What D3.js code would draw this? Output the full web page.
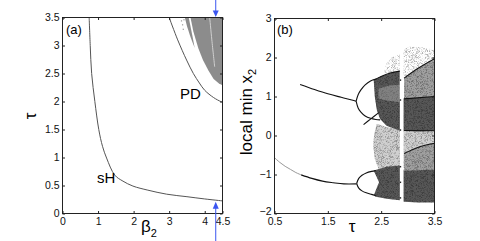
<!DOCTYPE html>
<html lang="en"><head><meta charset="UTF-8">
<title>sH / PD and bifurcation diagram</title>
<script src="https://cdn.jsdelivr.net/npm/d3@7/dist/d3.min.js"></script>
<style>
  body { margin: 0; background: #fff; }
  svg { display: block; font-family: "Liberation Sans", Arial, sans-serif; }
</style>
</head><body>
<script>
// ---- panel (a) data ----
var sHBeta = [0.75, 0.78, 0.82, 0.91, 1.02, 1.125, 1.24, 1.47, 1.7, 1.98, 2.4, 2.93, 3.5, 4.0, 4.5];
var sHTau  = [3.5, 3.0, 2.5, 2.0, 1.5, 1.2, 0.99, 0.685, 0.578, 0.49, 0.417, 0.345, 0.30, 0.26, 0.225];
var pdBeta = [3.0, 3.24, 3.49, 3.68, 3.85, 4.0, 4.25, 4.45, 4.5];
var pdTau  = [3.5, 3.1, 2.74, 2.5, 2.33, 2.2, 2.07, 2.0, 1.99];
// gray (chaotic) region, [beta, tau]
var chaosMain = [[3.6,3.5],[4.5,3.5],[4.5,2.29],[4.4,2.32],[4.25,2.4],[4.1,2.56],[3.95,2.74],[3.82,2.95],[3.68,3.25]];
var chaosSliver = [[3.44,3.5],[3.55,3.5],[3.66,3.15],[3.72,2.95],[3.6,3.15],[3.5,3.35]];
var chaosDots = [[3.33,3.45],[3.36,3.38],[3.4,3.47],[3.38,3.3]];
var chaosLightLine = [[4.14,3.5],[4.2,3.1],[4.28,2.62]];
var arrowBeta = 4.31;
var aXTicks = [0, 1, 2, 3, 4, 4.5];
var aYTicks = [0, 0.5, 1, 1.5, 2, 2.5, 3, 3.5];

// ---- panel (b) data: [tau, local min x2] ----
var lowGray  = [[0.5,-0.57],[0.6,-0.69],[0.7,-0.79],[0.8,-0.87],[0.9,-0.95],[1.0,-1.01]];
var lowBlack = [[1.0,-1.01],[1.2,-1.1],[1.4,-1.17],[1.6,-1.21],[1.8,-1.24],[2.04,-1.24]];
var eyeUp    = [[2.04,-1.23],[2.08,-1.1],[2.14,-1.02],[2.22,-0.96],[2.32,-0.92],[2.4,-0.9]];
var eyeLow   = [[2.04,-1.23],[2.08,-1.35],[2.14,-1.42],[2.22,-1.47],[2.32,-1.51],[2.4,-1.54]];
var upBranch = [[0.98,1.31],[1.25,1.18],[1.5,1.07],[1.75,0.98],[1.95,0.91],[2.03,0.88]];
var cUp      = [[2.03,0.88],[2.07,1.05],[2.12,1.17],[2.2,1.3],[2.3,1.4],[2.4,1.45]];
var cLow     = [[2.03,0.88],[2.07,0.7],[2.12,0.6],[2.2,0.5],[2.3,0.44],[2.4,0.41],[2.48,0.4]];
var crossLine = [[2.17,0.28],[2.3,0.42],[2.45,0.58]];

// chaotic bands, [tau, x2] outlines, and the mean gray seen in each
var bandSparse = [[2.55,1.6],[2.6,1.85],[2.7,2.0],[2.85,2.1],[2.93,2.22],[3.05,2.28],[3.25,2.26],[3.5,2.2],[3.5,1.95],[3.2,1.73],[2.93,1.47],[2.85,1.6]];
var bandUpperMid = [[2.93,1.47],[3.2,1.73],[3.5,1.95],[3.5,1.0],[3.2,0.97],[2.93,0.94]];
var bandUpperDark = [[2.36,1.42],[2.5,1.52],[2.7,1.6],[2.85,1.65],[2.85,0.95],[3.2,0.97],[3.5,1.0],[3.5,0.12],[3.2,0.1],[2.85,0.12],[2.6,0.25],[2.48,0.42],[2.42,0.65],[2.38,1.0]];
var bandUpperLeftMid = [[2.45,1.2],[2.65,1.28],[2.85,1.3],[2.85,0.85],[2.6,0.9],[2.45,0.95]];
var bandLowerLight = [[2.42,0.3],[2.6,0.22],[2.85,0.15],[3.5,0.12],[3.5,-0.85],[2.85,-0.82],[2.45,-0.85],[2.38,-0.6],[2.35,-0.25],[2.37,0.05]];
var bandLowerMid = [[2.93,-0.46],[3.2,-0.3],[3.5,-0.2],[3.5,-0.9],[2.93,-0.9]];
var bandLowerDark = [[2.36,-0.9],[2.6,-0.8],[2.85,-0.77],[2.93,-0.9],[3.5,-0.88],[3.5,-1.72],[3.2,-1.72],[2.93,-1.7],[2.85,-1.66],[2.6,-1.62],[2.4,-1.57],[2.36,-1.54],[2.46,-1.2]];
var bandTone = { sparse: "#ffffff", lowerLight: "#d0d0d0", mid: "#a0a0a0", dark: "#575757" };
var edgeLines = [
  [[2.93,1.47],[3.2,1.73],[3.5,1.97]],
  [[2.93,0.94],[3.5,1.0]],
  [[2.93,0.13],[3.5,0.12]],
  [[2.93,-0.46],[3.2,-0.3],[3.5,-0.2]],
  [[2.36,1.42],[2.6,1.57],[2.85,1.65]]
];
var gapTau = [2.85, 2.92];
var gapX = [-1.8, 2.35];
var gapMarks = [1.42, 0.91, 0.14, -0.8, -1.2, -1.6];
var bXTicks = [0.5, 1.5, 2.5, 3.5];
var bYTicks = [-2, -1, 0, 1, 2, 3];

var W = 480, H = 241;
var svg = d3.select("body").append("svg").attr("width", W).attr("height", H);
var defs = svg.append("defs");

// scales
var xa = d3.scaleLinear().domain([0, 4.5]).range([62.5, 222.5]);
var ya = d3.scaleLinear().domain([0, 3.5]).range([213.5, 17.5]);
var xb = d3.scaleLinear().domain([0.5, 3.5]).range([274.5, 434.5]);
var yb = d3.scaleLinear().domain([-2, 3]).range([213.5, 18.5]);

var lineA = d3.line().x(function(d) { return xa(d[0]); }).y(function(d) { return ya(d[1]); });
var curveA = d3.line().curve(d3.curveCatmullRom).x(function(d) { return xa(d[0]); }).y(function(d) { return ya(d[1]); });
var lineB = d3.line().x(function(d) { return xb(d[0]); }).y(function(d) { return yb(d[1]); });
var smoothB = d3.line().curve(d3.curveCatmullRom).x(function(d) { return xb(d[0]); }).y(function(d) { return yb(d[1]); });

// dotted grain laid over the flat band tones so they read as scatter
var gf = defs.append("filter").attr("id", "grain")
  .attr("filterUnits", "userSpaceOnUse").attr("x", 270).attr("y", 10).attr("width", 170).attr("height", 210)
  .attr("color-interpolation-filters", "sRGB");
gf.append("feTurbulence").attr("type", "fractalNoise").attr("baseFrequency", 2.2)
  .attr("numOctaves", 1).attr("seed", 5).attr("result", "t");
gf.append("feColorMatrix").attr("in", "t").attr("type", "matrix")
  .attr("values", "0 0 0 0 0  0 0 0 0 0  0 0 0 0 0  1 0 0 0 0").attr("result", "a");
gf.append("feComponentTransfer").attr("in", "a").attr("result", "m")
  .append("feFuncA").attr("type", "linear").attr("slope", 4).attr("intercept", 0.5 - 4 * 0.58);
gf.append("feComposite").attr("in", "SourceGraphic").attr("in2", "m").attr("operator", "in");

// ---------- panel (a) ----------
var ga = svg.append("g");
ga.append("path").attr("d", lineA(chaosMain) + "Z").attr("fill", "#8c8c8c");
ga.append("path").attr("d", lineA(chaosSliver) + "Z").attr("fill", "#8c8c8c");
ga.selectAll(".dot").data(chaosDots).enter().append("rect")
  .attr("x", function(d) { return xa(d[0]); }).attr("y", function(d) { return ya(d[1]); })
  .attr("width", 1.2).attr("height", 1.2).attr("fill", "#999");
ga.append("path").attr("d", curveA(chaosLightLine))
  .attr("fill", "none").attr("stroke", "#d0d0d0").attr("stroke-width", 1);

ga.append("path").attr("d", curveA(d3.zip(sHBeta, sHTau)))
  .attr("fill", "none").attr("stroke", "#555").attr("stroke-width", 1);
ga.append("path").attr("d", curveA(d3.zip(pdBeta, pdTau)))
  .attr("fill", "none").attr("stroke", "#555").attr("stroke-width", 1);

function frame(g, x, y, xt, yt, fmtX, fmtY) {
  g.append("rect").attr("x", x.range()[0]).attr("y", y.range()[1])
    .attr("width", x.range()[1] - x.range()[0]).attr("height", y.range()[0] - y.range()[1])
    .attr("fill", "none").attr("stroke", "#222").attr("stroke-width", 1);
  var bx = g.append("g").attr("transform", "translate(0," + y.range()[0] + ")")
    .call(d3.axisBottom(x).tickValues(xt).tickSizeInner(-2.5).tickSizeOuter(0).tickPadding(4).tickFormat(fmtX));
  var tx = g.append("g").attr("transform", "translate(0," + y.range()[1] + ")")
    .call(d3.axisTop(x).tickValues(xt).tickSizeInner(-2.5).tickSizeOuter(0).tickFormat(""));
  var ly = g.append("g").attr("transform", "translate(" + x.range()[0] + ",0)")
    .call(d3.axisLeft(y).tickValues(yt).tickSizeInner(-2.5).tickSizeOuter(0).tickPadding(3).tickFormat(fmtY));
  var ry = g.append("g").attr("transform", "translate(" + x.range()[1] + ",0)")
    .call(d3.axisRight(y).tickValues(yt).tickSizeInner(-2.5).tickSizeOuter(0).tickFormat(""));
  [bx, tx, ly, ry].forEach(function(a) {
    a.select(".domain").remove();
    a.selectAll("line").attr("stroke", "#222");
    a.selectAll("text").attr("font-size", "10.5px").attr("fill", "#111")
      .attr("font-family", "Liberation Sans, Arial, sans-serif");
  });
  return ly;
}
frame(ga, xa, ya, aXTicks, aYTicks, d3.format(""), d3.format(""));

ga.append("text").attr("x", 66).attr("y", 34).attr("font-size", "13px").text("(a)");
ga.append("text").attr("x", 180).attr("y", 99).attr("font-size", "15px").text("PD");
ga.append("text").attr("x", 97).attr("y", 183).attr("font-size", "15px").text("sH");
var bl = ga.append("text").attr("x", 141).attr("y", 232).attr("font-size", "17px");
bl.append("tspan").text("β");
bl.append("tspan").attr("font-size", "11px").attr("dy", 5).text("2");
ga.append("text").attr("transform", "translate(36,116) rotate(-90)")
  .attr("text-anchor", "middle").attr("font-size", "17px").text("τ");

// blue arrows at beta = arrowBeta
var ax = xa(arrowBeta);
var blue = "#3a55f0";
ga.append("line").attr("x1", ax).attr("x2", ax).attr("y1", 0).attr("y2", ya(3.5) - 5)
  .attr("stroke", blue).attr("stroke-width", 1);
ga.append("path").attr("d", "M" + (ax - 3) + "," + (ya(3.5) - 7) + "L" + (ax + 3) + "," + (ya(3.5) - 7) + "L" + ax + "," + (ya(3.5) - 0.5) + "Z")
  .attr("fill", blue);
var tipY = ya(0.22) + 0.5;
ga.append("line").attr("x1", ax).attr("x2", ax).attr("y1", H).attr("y2", tipY + 5)
  .attr("stroke", blue).attr("stroke-width", 1);
ga.append("path").attr("d", "M" + (ax - 3) + "," + (tipY + 7) + "L" + (ax + 3) + "," + (tipY + 7) + "L" + ax + "," + tipY + "Z")
  .attr("fill", blue);

// ---------- panel (b) ----------
var gb = svg.append("g");
function band(pts, tone) {
  gb.append("path").attr("d", lineB(pts) + "Z").attr("fill", tone);
  gb.append("path").attr("d", lineB(pts) + "Z").attr("fill", "#000")
    .attr("fill-opacity", 0.3).attr("filter", "url(#grain)");
}
band(bandSparse, bandTone.sparse);
band(bandLowerLight, bandTone.lowerLight);
band(bandUpperMid, bandTone.mid);
band(bandLowerMid, bandTone.mid);
band(bandUpperDark, bandTone.dark);
band(bandLowerDark, bandTone.dark);
// lighter patch inside the upper band, left of the window
gb.append("path").attr("d", lineB(bandUpperLeftMid) + "Z").attr("fill", "#fff").attr("fill-opacity", 0.25);

// periodic window gap
gb.append("rect").attr("x", xb(gapTau[0])).attr("width", xb(gapTau[1]) - xb(gapTau[0]))
  .attr("y", yb(gapX[1])).attr("height", yb(gapX[0]) - yb(gapX[1])).attr("fill", "#fff");
gb.selectAll(".gm").data(gapMarks).enter().append("line")
  .attr("x1", xb(gapTau[0])).attr("x2", xb(gapTau[0] + 0.025))
  .attr("y1", function(d) { return yb(d); }).attr("y2", function(d) { return yb(d); })
  .attr("stroke", "#222").attr("stroke-width", 1.5);

edgeLines.forEach(function(e) {
  gb.append("path").attr("d", smoothB(e)).attr("fill", "none").attr("stroke", "#111").attr("stroke-width", 1.1);
});

gb.append("path").attr("d", smoothB(lowGray)).attr("fill", "none").attr("stroke", "#999").attr("stroke-width", 1);
[lowBlack, eyeUp, eyeLow, upBranch, cUp, cLow, crossLine].forEach(function(p) {
  gb.append("path").attr("d", smoothB(p)).attr("fill", "none").attr("stroke", "#111").attr("stroke-width", 1.1);
});

var lyb = frame(gb, xb, yb, bXTicks, bYTicks, d3.format(".1f"), d3.format(""));
// lowest label sits a little higher so it clears the 0.5 below it
lyb.selectAll(".tick").filter(function(d) { return d === -2; }).select("text").attr("dy", "0.1em");

gb.append("text").attr("x", 277).attr("y", 34).attr("font-size", "13px").text("(b)");
gb.append("text").attr("x", 352).attr("y", 232).attr("text-anchor", "middle").attr("font-size", "17px").text("τ");
var yl = gb.append("text").attr("transform", "translate(252,112) rotate(-90)")
  .attr("text-anchor", "middle").attr("font-size", "17px");
yl.append("tspan").text("local min x");
yl.append("tspan").attr("font-size", "11px").attr("dy", 4).text("2");
</script>
</body></html>
